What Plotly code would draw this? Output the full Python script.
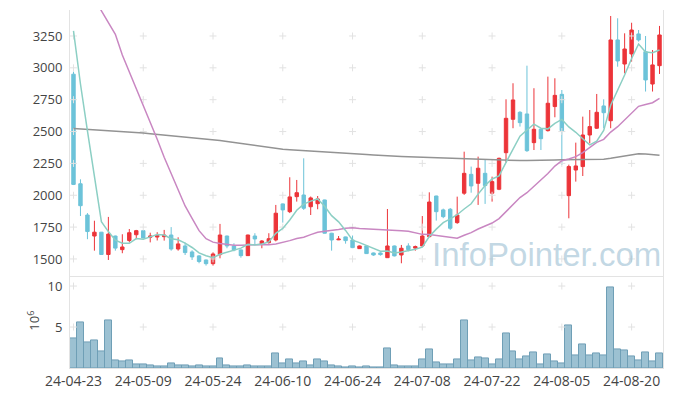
import plotly.graph_objects as go

dates = ["24-04-23","24-04-24","24-04-25","24-04-26","24-04-29","24-04-30","24-05-02","24-05-03","24-05-07","24-05-08",
         "24-05-09","24-05-10","24-05-13","24-05-14","24-05-16","24-05-17","24-05-20","24-05-21","24-05-22","24-05-23",
         "24-05-24","24-05-27","24-05-28","24-05-29","24-05-30","24-05-31","24-06-03","24-06-04","24-06-05","24-06-07",
         "24-06-10","24-06-11","24-06-12","24-06-13","24-06-14","24-06-17","24-06-18","24-06-19","24-06-20","24-06-21",
         "24-06-24","24-06-25","24-06-26","24-06-27","24-06-28","24-07-01","24-07-02","24-07-03","24-07-04","24-07-05",
         "24-07-08","24-07-09","24-07-10","24-07-11","24-07-12","24-07-15","24-07-16","24-07-17","24-07-18","24-07-19",
         "24-07-22","24-07-23","24-07-24","24-07-25","24-07-26","24-07-29","24-07-30","24-07-31","24-08-01","24-08-02",
         "24-08-05","24-08-06","24-08-07","24-08-08","24-08-09","24-08-12","24-08-13","24-08-14","24-08-16","24-08-19",
         "24-08-20","24-08-21","24-08-22","24-08-23","24-08-26"]

opens = [2950,2090,1845,1680,1710,1535,1680,1573,1645,1690,
         1722,1670,1672,1675,1688,1578,1602,1555,1524,1492,
         1463,1534,1680,1602,1571,1526,1680,1615,1628,1649,
         1932,1871,1989,2002,1910,1934,1963,1702,1650,1673,
         1649,1581,1602,1547,1547,1510,1602,1531,1602,1585,
         1602,1675,1994,1885,1890,1785,2016,2164,2094,2172,
         2016,2047,2334,2596,2651,2638,2413,2518,2507,2696,
         2792,1997,2198,2225,2473,2526,2701,2585,3219,3030,
         3109,3266,3127,2873,3017]
highs = [2970,2125,1860,1800,1712,1830,1683,1694,1735,1728,
         1725,1706,1710,1728,1750,1670,1628,1568,1530,1495,
         1552,1775,1683,1623,1575,1690,1702,1648,1702,1924,
         1935,2141,2120,2290,1990,1994,1965,1705,1680,1675,
         1684,1605,1605,1550,1552,1892,1605,1610,1623,1605,
         1837,2023,1996,1895,1900,1989,2342,2225,2303,2277,
         2146,2295,2753,2879,2660,3017,2840,2522,2931,2918,
         2826,2240,2413,2617,2669,2795,2753,3407,3389,3271,
         3354,3297,3250,3140,3329]
lows = [2080,1837,1655,1565,1532,1492,1565,1545,1630,1655,
        1662,1630,1645,1644,1565,1565,1531,1492,1466,1448,
        1448,1505,1584,1560,1510,1524,1610,1584,1620,1638,
        1785,1860,1950,1885,1845,1890,1700,1565,1648,1620,
        1585,1578,1540,1525,1526,1508,1520,1466,1560,1565,
        1600,1672,1801,1820,1728,1776,2003,2020,1924,1932,
        1950,2040,2256,2526,2539,2340,2355,2355,2500,2612,
        2238,1819,2107,2151,2408,2520,2526,2526,3009,2957,
        3049,3206,2814,2814,2952]
closes = [2085,1918,1715,1710,1535,1695,1585,1594,1706,1722,
          1665,1680,1685,1688,1578,1618,1550,1516,1480,1463,
          1539,1688,1602,1571,1526,1688,1657,1641,1659,1859,
          1885,1987,2020,1898,1979,1971,1702,1649,1656,1644,
          1589,1602,1542,1531,1534,1602,1524,1584,1573,1597,
          1680,1947,1871,1832,1741,1845,2172,2073,2212,2076,
          2107,2290,2604,2748,2570,2350,2518,2444,2722,2784,
          2507,2225,2230,2473,2539,2651,2648,3219,3054,3148,
          3297,3219,2905,3023,3258]

volume_m = [3.59,5.52,3.10,3.35,2.02,5.77,0.93,0.81,0.93,0.44,
            0.44,0.32,0.20,0.20,0.56,0.32,0.32,0.20,0.32,0.20,
            0.20,1.17,0.32,0.20,0.20,0.32,0.20,0.20,0.20,1.77,
            0.56,1.05,0.56,0.81,0.32,1.05,0.81,0.32,0.20,0.10,
            0.20,0.10,0.20,0.10,0.10,2.38,0.32,0.20,0.20,0.20,
            1.05,2.26,0.69,0.44,0.44,1.05,5.77,0.93,1.29,1.17,
            0.44,1.05,4.19,2.02,1.05,1.41,1.90,0.44,1.65,0.81,
            0.56,5.16,1.53,2.86,1.53,1.77,1.53,9.88,2.26,2.14,
            1.41,0.93,1.90,0.81,1.77]

ma5 = [3290,2873,2505,2135,1793,1715,1648,1624,1623,1660,
       1654,1673,1692,1688,1659,1650,1624,1590,1548,1525,
       1510,1537,1554,1573,1585,1615,1609,1617,1634,1701,
       1740,1806,1882,1930,1954,1971,1914,1840,1791,1724,
       1648,1628,1607,1582,1560,1562,1547,1555,1563,1576,
       1592,1676,1734,1785,1814,1847,1892,1933,2009,2076,
       2128,2152,2258,2365,2464,2512,2558,2526,2521,2564,
       2595,2536,2494,2444,2395,2424,2508,2706,2822,2944,
       3073,3187,3125,3118,3140]

ma20 = [3790,3700,3620,3540,3450,3356,3263,3101,2970,2840,
        2716,2578,2439,2298,2167,2036,1916,1819,1722,1659,
        1632,1621,1615,1608,1608,1607,1611,1613,1611,1618,
        1629,1644,1661,1671,1691,1709,1717,1723,1732,1741,
        1744,1739,1736,1734,1735,1730,1724,1721,1717,1703,
        1693,1691,1684,1680,1669,1662,1686,1707,1735,1756,
        1782,1817,1870,1931,1982,2020,2070,2113,2170,2229,
        2271,2285,2303,2335,2374,2415,2439,2496,2538,2592,
        2651,2698,2713,2726,2761]

ma120 = [2523,2520,2517,2514,2511,2508,2504,2500,2496,2492,
         2488,2483,2478,2473,2468,2464,2459,2454,2448,2442,
         2437,2430,2422,2414,2405,2396,2388,2380,2373,2366,
         2361,2357,2354,2351,2349,2347,2344,2340,2336,2332,
         2328,2324,2320,2316,2312,2309,2306,2304,2302,2300,
         2298,2296,2295,2294,2293,2291,2288,2284,2280,2277,
         2275,2274,2273,2272,2272,2272,2272,2273,2275,2277,
         2279,2280,2280,2280,2280,2281,2283,2290,2300,2310,
         2320,2326,2324,2318,2314]

price_ticks = [1500, 1750, 2000, 2250, 2500, 2750, 3000, 3250]
vol_ticks = [5, 10]
tick_dates = dates[::10]

RED = "#ec3439"
BLUE = "#6cc3d9"
GRID = "#e2e2e2"
AXIS_FONT = dict(family="Open Sans, Noto Sans, sans-serif", size=13, color="#444444")
XTICK_FONT = dict(family="Open Sans, Noto Sans, sans-serif", size=14, color="#444444")

fig = go.Figure()

fig.add_trace(go.Candlestick(
    x=dates, open=opens, high=highs, low=lows, close=closes,
    xaxis="x", yaxis="y",
    increasing=dict(line=dict(color=RED, width=1), fillcolor=RED),
    decreasing=dict(line=dict(color=BLUE, width=1), fillcolor=BLUE),
    whiskerwidth=0, showlegend=False, hoverinfo="skip"))

fig.add_trace(go.Bar(x=dates, y=volume_m, xaxis="x", yaxis="y2",
                     marker=dict(color="#9cc1d2", line=dict(color="#6f9fb6", width=1)),
                     showlegend=False, hoverinfo="skip"))

# grid crosses at tick intersections (main pane)
gx = [d for d in tick_dates for _ in price_ticks]
gy = [p for _ in tick_dates for p in price_ticks]
fig.add_trace(go.Scatter(x=gx, y=gy, mode="markers", xaxis="x", yaxis="y",
                         marker=dict(symbol="cross-thin", size=5, line=dict(color=GRID, width=1)),
                         hoverinfo="skip", showlegend=False))
# grid crosses (volume pane)
vx = [d for d in tick_dates for _ in vol_ticks]
vy = [v for _ in tick_dates for v in vol_ticks]
fig.add_trace(go.Scatter(x=vx, y=vy, mode="markers", xaxis="x", yaxis="y2",
                         marker=dict(symbol="cross-thin", size=5, line=dict(color=GRID, width=1)),
                         hoverinfo="skip", showlegend=False))

fig.add_trace(go.Scatter(x=dates, y=ma120, mode="lines", xaxis="x", yaxis="y",
                         line=dict(color="#939393", width=1.5), showlegend=False, hoverinfo="skip"))
fig.add_trace(go.Scatter(x=dates, y=ma20, mode="lines", xaxis="x", yaxis="y",
                         line=dict(color="#c987c2", width=1.5), showlegend=False, hoverinfo="skip"))
fig.add_trace(go.Scatter(x=dates, y=ma5, mode="lines", xaxis="x", yaxis="y",
                         line=dict(color="#8ccfc4", width=1.5), showlegend=False, hoverinfo="skip"))

fig.update_layout(
    width=665, height=388,
    margin=dict(l=61.5, r=9.5, t=2, b=28, autoexpand=False),
    paper_bgcolor="white", plot_bgcolor="white",
    bargap=0,
    font=AXIS_FONT,
    xaxis=dict(type="category", categoryorder="array", categoryarray=dates,
               range=[-0.5, len(dates) - 0.5], anchor="y2", automargin=False,
               tickmode="array", tickvals=tick_dates, ticktext=tick_dates, tickangle=0,
               showgrid=False, zeroline=False, showline=True, mirror=True,
               linecolor="#e3e3e3", linewidth=1, ticks="", tickfont=XTICK_FONT,
               rangeslider=dict(visible=False)),
    yaxis=dict(domain=[0.253, 1], range=[1355, 3454], tickvals=price_ticks, automargin=False,
               showgrid=False, zeroline=False, showline=True, mirror=True,
               linecolor="#e3e3e3", linewidth=1, ticks="", ticklabelstandoff=4,
               tickfont=AXIS_FONT),
    yaxis2=dict(domain=[0, 0.253], range=[0, 11.05], tickvals=vol_ticks, automargin=False,
                showgrid=False, zeroline=False, showline=True, mirror=True,
                linecolor="#e3e3e3", linewidth=1, ticks="", ticklabelstandoff=4,
                tickfont=AXIS_FONT),
    annotations=[
        dict(text="InfoPointer.com", xref="paper", yref="paper",
             x=0.804, y=0.316, xanchor="center", yanchor="middle",
             showarrow=False,
             font=dict(family="Liberation Sans, Arial, sans-serif", size=33,
                       color="rgba(150,187,208,0.58)")),
        dict(text="10<sup>6</sup>", xref="paper", yref="paper",
             x=-0.063, y=0.131, xanchor="center", yanchor="middle",
             textangle=-90, showarrow=False, font=AXIS_FONT),
    ],
)

fig.write_html("out.html")
